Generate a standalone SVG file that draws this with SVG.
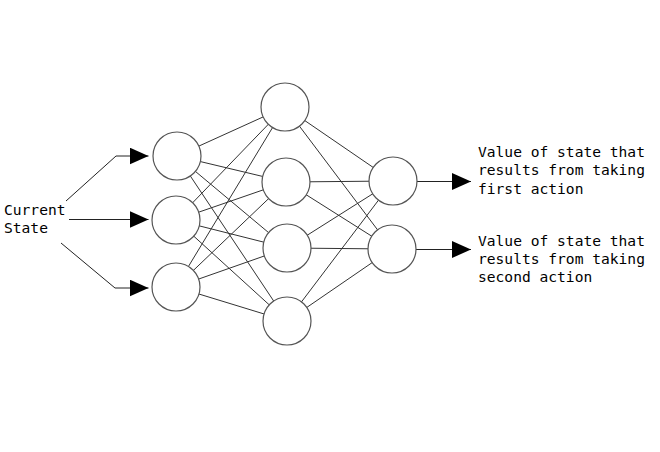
<svg xmlns="http://www.w3.org/2000/svg" width="660" height="452" viewBox="0 0 660 452">
<defs>
<marker id="arr" markerUnits="userSpaceOnUse" markerWidth="20" markerHeight="18" refX="19" refY="8.5" orient="auto">
<path d="M0,0 L19,8.5 L0,17 Z" fill="#000"/>
</marker>
<style>
.e{stroke:#333;stroke-width:1;fill:none}
.a{stroke:#222;stroke-width:1;fill:none;marker-end:url(#arr)}
.n{fill:#fff;stroke:#555;stroke-width:1.2}
.t{font-family:"DejaVu Sans Mono","Liberation Mono",monospace;font-size:14.6px;fill:#000}
</style>
</defs>
<rect width="660" height="452" fill="#fff"/>
<g id="connectors">
<polyline class="a" points="66,201 116,156 148.5,156"/>
<polyline class="a" points="69,219.5 148.5,219.5"/>
<polyline class="a" points="61,243 115,288 148.5,288"/>
<line class="e" x1="177" y1="156" x2="285" y2="107"/>
<line class="e" x1="177" y1="156" x2="286" y2="182"/>
<line class="e" x1="177" y1="156" x2="287" y2="248"/>
<line class="e" x1="177" y1="156" x2="287" y2="321"/>
<line class="e" x1="176" y1="220" x2="285" y2="107"/>
<line class="e" x1="176" y1="220" x2="286" y2="182"/>
<line class="e" x1="176" y1="220" x2="287" y2="248"/>
<line class="e" x1="176" y1="220" x2="287" y2="321"/>
<line class="e" x1="176" y1="287" x2="285" y2="107"/>
<line class="e" x1="176" y1="287" x2="286" y2="182"/>
<line class="e" x1="176" y1="287" x2="287" y2="248"/>
<line class="e" x1="176" y1="287" x2="287" y2="321"/>
<line class="e" x1="285" y1="107" x2="393" y2="181"/>
<line class="e" x1="285" y1="107" x2="392" y2="249"/>
<line class="e" x1="286" y1="182" x2="393" y2="181"/>
<line class="e" x1="286" y1="182" x2="392" y2="249"/>
<line class="e" x1="287" y1="248" x2="393" y2="181"/>
<line class="e" x1="287" y1="248" x2="392" y2="249"/>
<line class="e" x1="287" y1="321" x2="393" y2="181"/>
<line class="e" x1="287" y1="321" x2="392" y2="249"/>
<line class="a" x1="417" y1="181.5" x2="471" y2="181.5"/>
<line class="a" x1="416" y1="249.5" x2="471" y2="249.5"/>
</g>
<g id="in1"><circle class="n" cx="177" cy="156" r="24"/></g>
<g id="in2"><circle class="n" cx="176" cy="220" r="24"/></g>
<g id="in3"><circle class="n" cx="176" cy="287" r="24"/></g>
<g id="h1"><circle class="n" cx="285" cy="107" r="24"/></g>
<g id="h2"><circle class="n" cx="286" cy="182" r="24"/></g>
<g id="h3"><circle class="n" cx="287" cy="248" r="24"/></g>
<g id="h4"><circle class="n" cx="287" cy="321" r="24"/></g>
<g id="out1"><circle class="n" cx="393" cy="181" r="24"/></g>
<g id="out2"><circle class="n" cx="392" cy="249" r="24"/></g>
<g id="label-input">
<text class="t" x="4" y="215">Current</text>
<text class="t" x="4" y="233">State</text>
</g>
<g id="label-out1">
<text class="t" x="478" y="157">Value of state that</text>
<text class="t" x="478" y="175.3">results from taking</text>
<text class="t" x="478" y="193.6">first action</text>
</g>
<g id="label-out2">
<text class="t" x="478" y="246">Value of state that</text>
<text class="t" x="478" y="264.2">results from taking</text>
<text class="t" x="478" y="282.4">second action</text>
</g>
</svg>
